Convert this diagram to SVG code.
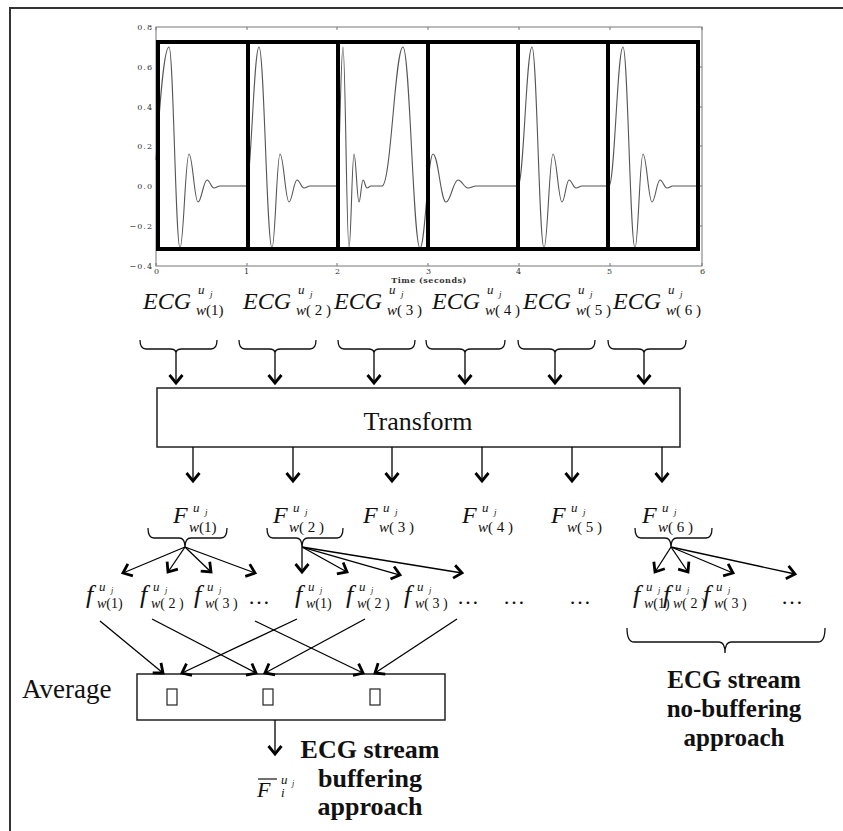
<svg xmlns="http://www.w3.org/2000/svg" width="843" height="831" viewBox="0 0 843 831">
<defs>
<marker id="ah" markerUnits="userSpaceOnUse" markerWidth="20" markerHeight="20" viewBox="-10 -10 20 20" refX="0" refY="0" orient="auto">
<path d="M-8,-6.5 L0,0 L-8,6.5" fill="none" stroke="#000" stroke-width="2.8"/>
</marker>
<style>
.it{font-family:"Liberation Serif","Times New Roman",serif;font-style:italic;fill:#111}
.rm{font-style:normal}
.serif{font-family:"Liberation Serif","Times New Roman",serif;fill:#111}
.bold{font-family:"Liberation Serif","Times New Roman",serif;font-weight:bold;fill:#111;text-anchor:middle}
.tick{font-family:"DejaVu Serif",serif;font-size:8px;fill:#333;letter-spacing:1px}
.big{font-size:24px}
.sub{font-size:15px}
.sup{font-size:13px}
.jj{font-size:9px}
.fbig{font-size:26px}
.fsub{font-size:14px}
.fj{font-size:8px}
.arr{stroke:#000;stroke-width:1.3;fill:none;marker-end:url(#ah)}
.brace{stroke:#111;stroke-width:1.3;fill:none}
.box{stroke:#222;stroke-width:1.5;fill:#fff}
</style>
</defs>
<rect width="843" height="831" fill="#fff"/>
<path d="M10,831 V8 H843" fill="none" stroke="#333" stroke-width="2"/>

<g id="chart">
<rect x="156" y="27" width="546" height="239" fill="none" stroke="#777" stroke-width="1"/>
<path d="M156,27v3M247,27v3M337,27v3M428,27v3M519,27v3M610,27v3M702,27v3M156,266v-3M247,266v-3M337,266v-3M428,266v-3M519,266v-3M610,266v-3M702,266v-3M156,67h3M156,107h3M156,146h3M156,186h3M156,226h3M702,67h-3M702,107h-3M702,146h-3M702,186h-3M702,226h-3" stroke="#777" stroke-width="1"/>
<g class="tick" text-anchor="end">
<text x="153" y="30">0.8</text>
<text x="153" y="70">0.6</text>
<text x="153" y="110">0.4</text>
<text x="153" y="149">0.2</text>
<text x="153" y="189">0.0</text>
<text x="153" y="229">−0.2</text>
<text x="153" y="269">−0.4</text>
</g>
<g class="tick" text-anchor="middle">
<text x="157" y="274">0</text>
<text x="247" y="274">1</text>
<text x="338" y="274">2</text>
<text x="429" y="274">3</text>
<text x="519" y="274">4</text>
<text x="610" y="274">5</text>
<text x="703" y="274">6</text>
<text x="429" y="283" font-weight="bold" letter-spacing="0.5">Time (seconds)</text>
</g>
<path fill="none" stroke="#555" stroke-width="1.1" d="M156,160 C160,100 164,47 169,47 C173.4,47 175.6,248 180,248 C183.6,248 185.4,154 189,154 C192.6,154 194.4,202 198,202 C201.6,202 203.4,180 207,180 C209.8,180 211.2,188 214,188 C216.4,188 217.6,186 220,186 L246,186
C251.2,186 253.8,47 259,47 C264.2,47 266.8,248 272,248 C275.2,248 276.8,154 280,154 C283.6,154 285.4,202 289,202 C292.2,202 293.8,180 297,180 C299.8,180 301.2,188 304,188 C306.4,188 307.6,186 310,186 L337,186
C339.4,186 340.6,47 343,47 C345.4,47 346.6,248 349,248 C351,248 352,154 354,154 C356,154 357,202 359,202 C360.6,202 361.4,180 363,180 C364.6,180 365.4,188 367,188 C368.6,188 369.4,186 371,186 L382,186
C391,186 395,47 403,47 C409.8,47 413.2,248 420,248 C425.2,248 427.8,154 433,154 C438.2,154 440.8,202 446,202 C450.8,202 453.2,180 458,180 C462,180 464,188 468,188 C471.2,188 472.8,186 476,186 L518,186
C523.6,186 526.4,47 532,47 C536.8,47 539.2,248 544,248 C547.6,248 549.4,154 553,154 C556.6,154 558.4,202 562,202 C564.8,202 566.2,180 569,180 C571.8,180 573.2,188 576,188 C578.4,188 579.6,186 582,186 L609,186
C614.6,186 617.4,47 623,47 C627.8,47 630.2,248 635,248 C638.2,248 639.8,154 643,154 C646.6,154 648.4,202 652,202 C655.2,202 656.8,180 660,180 C662.8,180 664.2,188 667,188 C669.4,188 670.6,186 673,186 L700,186"/>
<g fill="none" stroke="#000" stroke-width="4">
<rect x="158" y="42" width="540" height="207"/>
<path d="M248,42V249M338,42V249M428,42V249M518,42V249M608,42V249"/>
</g>
</g>

<g id="ecg-labels">
<g id="ecg1"><text class="it big" x="143" y="309">ECG</text><text class="it sub" x="196" y="315">w<tspan class="rm">(1)</tspan></text><text class="it sup" x="198" y="294">u</text><text class="it jj" x="210" y="297">j</text></g>
<g id="ecg2"><text class="it big" x="243" y="309">ECG</text><text class="it sub" x="296" y="315">w<tspan class="rm">( 2 )</tspan></text><text class="it sup" x="298" y="294">u</text><text class="it jj" x="310" y="297">j</text></g>
<g id="ecg3"><text class="it big" x="334" y="309">ECG</text><text class="it sub" x="387" y="315">w<tspan class="rm">( 3 )</tspan></text><text class="it sup" x="389" y="294">u</text><text class="it jj" x="401" y="297">j</text></g>
<g id="ecg4"><text class="it big" x="432" y="309">ECG</text><text class="it sub" x="485" y="315">w<tspan class="rm">( 4 )</tspan></text><text class="it sup" x="487" y="294">u</text><text class="it jj" x="499" y="297">j</text></g>
<g id="ecg5"><text class="it big" x="523" y="309">ECG</text><text class="it sub" x="576" y="315">w<tspan class="rm">( 5 )</tspan></text><text class="it sup" x="578" y="294">u</text><text class="it jj" x="590" y="297">j</text></g>
<g id="ecg6"><text class="it big" x="613" y="309">ECG</text><text class="it sub" x="666" y="315">w<tspan class="rm">( 6 )</tspan></text><text class="it sup" x="668" y="294">u</text><text class="it jj" x="680" y="297">j</text></g>
</g>

<g id="braces-ecg" class="brace">
<path d="M140,340 Q140,349 146,349 L170,349 Q176,349 176,353 Q176,349 182,349 L211,349 Q217,349 217,340"/>
<path d="M239,340 Q239,349 245,349 L269,349 Q275,349 275,353 Q275,349 281,349 L310,349 Q316,349 316,340"/>
<path d="M338,340 Q338,349 344,349 L368,349 Q374,349 374,353 Q374,349 380,349 L409,349 Q415,349 415,340"/>
<path d="M426,340 Q426,349 432,349 L459,349 Q465,349 465,353 Q465,349 471,349 L499,349 Q505,349 505,340"/>
<path d="M518,340 Q518,349 524,349 L549,349 Q555,349 555,353 Q555,349 561,349 L589,349 Q595,349 595,340"/>
<path d="M608,340 Q608,349 614,349 L638,349 Q644,349 644,353 Q644,349 650,349 L680,349 Q686,349 686,340"/>
</g>

<g id="transform">
<rect class="box" x="157" y="388" width="523" height="59"/>
<text class="serif" x="418" y="430" font-size="26" text-anchor="middle">Transform</text>
</g>

<g id="F-labels">
<g id="F1"><text class="it big" x="173" y="523">F</text><text class="it sub" x="189" y="532">w<tspan class="rm">(1)</tspan></text><text class="it sup" x="193" y="512">u</text><text class="it jj" x="205" y="515">j</text></g>
<g id="F2"><text class="it big" x="273" y="523">F</text><text class="it sub" x="289" y="532">w<tspan class="rm">( 2 )</tspan></text><text class="it sup" x="293" y="512">u</text><text class="it jj" x="305" y="515">j</text></g>
<g id="F3"><text class="it big" x="363" y="523">F</text><text class="it sub" x="379" y="532">w<tspan class="rm">( 3 )</tspan></text><text class="it sup" x="383" y="512">u</text><text class="it jj" x="395" y="515">j</text></g>
<g id="F4"><text class="it big" x="462" y="523">F</text><text class="it sub" x="478" y="532">w<tspan class="rm">( 4 )</tspan></text><text class="it sup" x="482" y="512">u</text><text class="it jj" x="494" y="515">j</text></g>
<g id="F5"><text class="it big" x="551" y="523">F</text><text class="it sub" x="567" y="532">w<tspan class="rm">( 5 )</tspan></text><text class="it sup" x="571" y="512">u</text><text class="it jj" x="583" y="515">j</text></g>
<g id="F6"><text class="it big" x="642" y="523">F</text><text class="it sub" x="658" y="532">w<tspan class="rm">( 6 )</tspan></text><text class="it sup" x="662" y="512">u</text><text class="it jj" x="674" y="515">j</text></g>
</g>

<g id="braces-F" class="brace">
<path d="M148,528 Q148,538 154,538 L179,538 Q185,538 185,547 Q185,538 191,538 L221,538 Q227,538 227,528"/>
<path d="M267,528 Q267,538 273,538 L296,538 Q302,538 302,547 Q302,538 308,538 L337,538 Q343,538 343,528"/>
<path d="M635,528 Q635,538 641,538 L665,538 Q671,538 671,547 Q671,538 677,538 L706,538 Q712,538 712,528"/>
</g>

<g id="f-labels">
<g id="g1f1"><text class="it fbig" x="86" y="603">f</text><text class="it fsub" x="97" y="608">w<tspan class="rm">(1)</tspan></text><text class="it sup" x="99" y="591">u</text><text class="it fj" x="111" y="593">j</text></g>
<g id="g1f2"><text class="it fbig" x="140" y="603">f</text><text class="it fsub" x="151" y="608">w<tspan class="rm">( 2 )</tspan></text><text class="it sup" x="153" y="591">u</text><text class="it fj" x="165" y="593">j</text></g>
<g id="g1f3"><text class="it fbig" x="194" y="603">f</text><text class="it fsub" x="205" y="608">w<tspan class="rm">( 3 )</tspan></text><text class="it sup" x="207" y="591">u</text><text class="it fj" x="219" y="593">j</text></g>
<text class="serif" x="248" y="604" font-size="22">…</text>
<g id="g2f1"><text class="it fbig" x="295" y="603">f</text><text class="it fsub" x="306" y="608">w<tspan class="rm">(1)</tspan></text><text class="it sup" x="308" y="591">u</text><text class="it fj" x="320" y="593">j</text></g>
<g id="g2f2"><text class="it fbig" x="346" y="603">f</text><text class="it fsub" x="357" y="608">w<tspan class="rm">( 2 )</tspan></text><text class="it sup" x="359" y="591">u</text><text class="it fj" x="371" y="593">j</text></g>
<g id="g2f3"><text class="it fbig" x="404" y="603">f</text><text class="it fsub" x="415" y="608">w<tspan class="rm">( 3 )</tspan></text><text class="it sup" x="417" y="591">u</text><text class="it fj" x="429" y="593">j</text></g>
<text class="serif" x="457" y="604" font-size="22">…</text>
<text class="serif" x="503" y="604" font-size="22">…</text>
<text class="serif" x="569" y="604" font-size="22">…</text>
<g id="g3f1"><text class="it fbig" x="633" y="603">f</text><text class="it fsub" x="644" y="608">w<tspan class="rm">(1)</tspan></text><text class="it sup" x="646" y="591">u</text><text class="it fj" x="658" y="593">j</text></g>
<g id="g3f2"><text class="it fbig" x="663" y="603">f</text><text class="it fsub" x="673" y="608">w<tspan class="rm">( 2 )</tspan></text><text class="it sup" x="675" y="591">u</text><text class="it fj" x="687" y="593">j</text></g>
<g id="g3f3"><text class="it fbig" x="703" y="603">f</text><text class="it fsub" x="714" y="608">w<tspan class="rm">( 3 )</tspan></text><text class="it sup" x="716" y="591">u</text><text class="it fj" x="728" y="593">j</text></g>
<text class="serif" x="781" y="604" font-size="22">…</text>
</g>

<g id="average">
<text class="serif" x="22" y="698" font-size="27">Average</text>
<rect class="box" x="137" y="674" width="308" height="46"/>
<g fill="#fff" stroke="#222" stroke-width="1.2">
<rect x="167" y="689" width="10" height="16"/>
<rect x="263" y="689" width="10" height="16"/>
<rect x="370" y="689" width="10" height="16"/>
</g>
</g>

<g id="Fbar">
<line x1="258" y1="779" x2="277" y2="779" stroke="#111" stroke-width="1.2"/>
<text class="it" x="257" y="797" font-size="22">F</text>
<text class="it" x="281" y="784" font-size="13">u</text>
<text class="it fj" x="292" y="786">j</text>
<text class="it" x="281" y="797" font-size="13">i</text>
</g>

<g id="brace-nobuf" class="brace">
<path d="M627,628 Q627,642 634,642 L719,642 Q725,642 725,653 Q725,642 731,642 L818,642 Q825,642 825,628"/>
</g>

<g id="notes">
<text class="bold" x="370" y="758" font-size="26">ECG stream</text>
<text class="bold" x="370" y="787" font-size="26">buffering</text>
<text class="bold" x="370" y="815" font-size="26">approach</text>
<text class="bold" x="734" y="688" font-size="25">ECG stream</text>
<text class="bold" x="734" y="717" font-size="25">no-buffering</text>
<text class="bold" x="734" y="746" font-size="25">approach</text>
</g>

<g id="connectors">
<line class="arr" x1="176" y1="353" x2="176" y2="383"/>
<line class="arr" x1="275" y1="353" x2="275" y2="383"/>
<line class="arr" x1="374" y1="353" x2="374" y2="383"/>
<line class="arr" x1="465" y1="353" x2="465" y2="383"/>
<line class="arr" x1="555" y1="353" x2="555" y2="383"/>
<line class="arr" x1="644" y1="353" x2="644" y2="383"/>
<line class="arr" x1="193" y1="447" x2="193" y2="481"/>
<line class="arr" x1="293" y1="447" x2="293" y2="481"/>
<line class="arr" x1="392" y1="447" x2="392" y2="481"/>
<line class="arr" x1="482" y1="447" x2="482" y2="481"/>
<line class="arr" x1="572" y1="447" x2="572" y2="481"/>
<line class="arr" x1="662" y1="447" x2="662" y2="481"/>
<line class="arr" x1="185" y1="547" x2="123" y2="573"/>
<line class="arr" x1="185" y1="547" x2="168" y2="572"/>
<line class="arr" x1="185" y1="547" x2="211" y2="572"/>
<line class="arr" x1="185" y1="547" x2="255" y2="573"/>
<line class="arr" x1="302" y1="547" x2="302" y2="572"/>
<line class="arr" x1="302" y1="547" x2="347" y2="572"/>
<line class="arr" x1="302" y1="547" x2="400" y2="575"/>
<line class="arr" x1="302" y1="547" x2="462" y2="573"/>
<line class="arr" x1="671" y1="547" x2="655" y2="572"/>
<line class="arr" x1="671" y1="547" x2="688" y2="572"/>
<line class="arr" x1="671" y1="547" x2="733" y2="573"/>
<line class="arr" x1="671" y1="547" x2="795" y2="574"/>
<line class="arr" x1="100" y1="621" x2="163" y2="673"/>
<line class="arr" x1="152" y1="619" x2="256" y2="673"/>
<line class="arr" x1="255" y1="621" x2="363" y2="673"/>
<line class="arr" x1="297" y1="619" x2="182" y2="673"/>
<line class="arr" x1="365" y1="619" x2="265" y2="673"/>
<line class="arr" x1="457" y1="619" x2="375" y2="673"/>
<line class="arr" x1="275" y1="720" x2="275" y2="754"/>
</g>
</svg>
